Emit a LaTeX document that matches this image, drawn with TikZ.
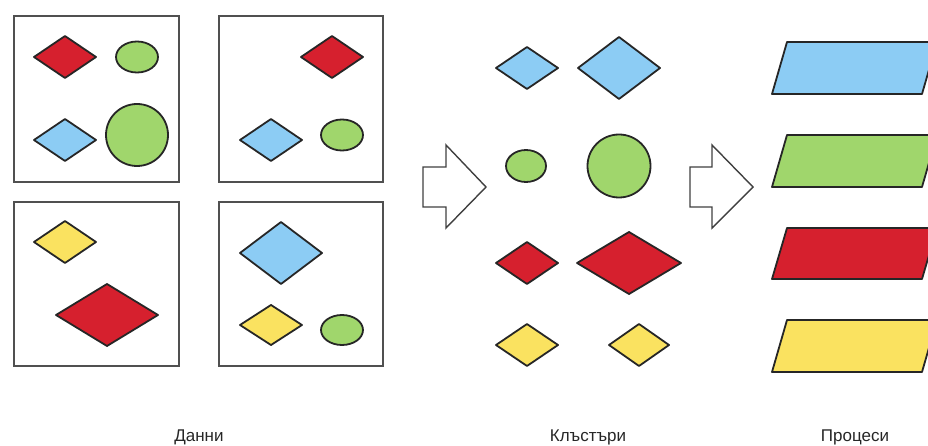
\documentclass[tikz,border=0pt]{standalone}
\usepackage{fontspec}
\newfontfamily\labelfont{Liberation Sans}
\definecolor{shapered}{RGB}{214,32,46}
\definecolor{shapeblue}{RGB}{140,204,244}
\definecolor{shapegreen}{RGB}{160,214,108}
\definecolor{shapeyellow}{RGB}{250,226,96}
\definecolor{edgegray}{RGB}{80,80,80}
\tikzset{
  redfill/.style={fill=shapered, draw=black!85, line width=1.8pt, line join=round},
  bluefill/.style={fill=shapeblue, draw=black!85, line width=1.8pt, line join=round},
  greenfill/.style={fill=shapegreen, draw=black!85, line width=1.8pt},
  yellowfill/.style={fill=shapeyellow, draw=black!85, line width=1.8pt, line join=round},
  framebox/.style={draw=edgegray, line width=2.4pt},
  blockarrow/.style={fill=white, draw=black!75, line width=1.4pt, line join=miter},
  caption/.style={font=\labelfont\fontsize{17}{20}\selectfont, anchor=base, text=black!85}
}
\begin{document}
\begin{tikzpicture}[x=1pt, y=-1pt]
  \useasboundingbox (0,0) rectangle (928,446);
  \clip (0,0) rectangle (928,446);

  % Data frames
  \draw[framebox] (14,16) rectangle (179,182);
  \draw[framebox] (219,16) rectangle (383,182);
  \draw[framebox] (14,202) rectangle (179,366);
  \draw[framebox] (219,202) rectangle (383,366);

  % Frame 1 (top left)
  \draw[redfill] (65,57) +(-31,0) -- +(0,-21) -- +(31,0) -- +(0,21) -- cycle;
  \draw[greenfill] (137,57) ellipse (21pt and 15.5pt);
  \draw[bluefill] (65,140) +(-31,0) -- +(0,-21) -- +(31,0) -- +(0,21) -- cycle;
  \draw[greenfill] (137,135) circle (31pt);

  % Frame 2 (top right)
  \draw[redfill] (332,57) +(-31,0) -- +(0,-21) -- +(31,0) -- +(0,21) -- cycle;
  \draw[bluefill] (271,140) +(-31,0) -- +(0,-21) -- +(31,0) -- +(0,21) -- cycle;
  \draw[greenfill] (342,135) ellipse (21pt and 15.5pt);

  % Frame 3 (bottom left)
  \draw[yellowfill] (65,242) +(-31,0) -- +(0,-21) -- +(31,0) -- +(0,21) -- cycle;
  \draw[redfill] (107,315) +(-51,0) -- +(0,-31) -- +(51,0) -- +(0,31) -- cycle;

  % Frame 4 (bottom right)
  \draw[bluefill] (281,253) +(-41,0) -- +(0,-31) -- +(41,0) -- +(0,31) -- cycle;
  \draw[yellowfill] (271,325) +(-31,0) -- +(0,-20) -- +(31,0) -- +(0,20) -- cycle;
  \draw[greenfill] (342,330) ellipse (21pt and 15pt);

  % First block arrow
  \draw[blockarrow] (423,167) -- (446,167) -- (446,145) -- (486,187)
    -- (446,228) -- (446,207) -- (423,207) -- cycle;

  % Clusters
  \draw[bluefill] (527,68) +(-31,0) -- +(0,-21) -- +(31,0) -- +(0,21) -- cycle;
  \draw[bluefill] (619,68) +(-41,0) -- +(0,-31) -- +(41,0) -- +(0,31) -- cycle;
  \draw[greenfill] (526,166) ellipse (20pt and 16pt);
  \draw[greenfill] (619,166) circle (31.5pt);
  \draw[redfill] (527,263) +(-31,0) -- +(0,-21) -- +(31,0) -- +(0,21) -- cycle;
  \draw[redfill] (629,263) +(-52,0) -- +(0,-31) -- +(52,0) -- +(0,31) -- cycle;
  \draw[yellowfill] (527,345) +(-31,0) -- +(0,-21) -- +(31,0) -- +(0,21) -- cycle;
  \draw[yellowfill] (639,345) +(-30,0) -- +(0,-21) -- +(30,0) -- +(0,21) -- cycle;

  % Second block arrow
  \draw[blockarrow] (690,167) -- (712,167) -- (712,145) -- (753,187)
    -- (712,228) -- (712,207) -- (690,207) -- cycle;

  % Processes (cut off at the right edge)
  \draw[bluefill] (787,42) -- (937,42) -- (922,94) -- (772,94) -- cycle;
  \draw[greenfill, line join=round] (787,135) -- (937,135) -- (922,187) -- (772,187) -- cycle;
  \draw[redfill] (787,228) -- (937,228) -- (922,279) -- (772,279) -- cycle;
  \draw[yellowfill] (787,320) -- (937,320) -- (922,372) -- (772,372) -- cycle;

  % Captions
  \node[caption] (data) at (199,441) {Данни};
  \node[caption] (clusters) at (588,441) {Клъстъри};
  \node[caption] (processes) at (855,441) {Процеси};
\end{tikzpicture}
\end{document}
